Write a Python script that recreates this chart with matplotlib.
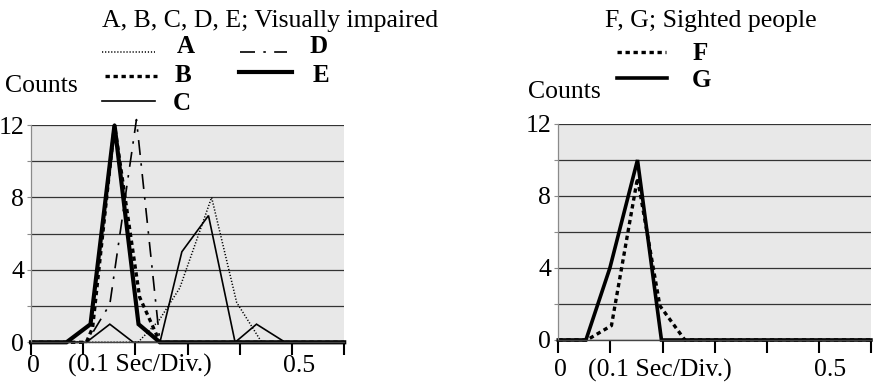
import matplotlib
matplotlib.use("Agg")
import matplotlib.pyplot as plt
import matplotlib.transforms as mtransforms
from matplotlib.lines import Line2D
import numpy as np

plt.rcParams['font.family'] = ['Liberation Serif', 'DejaVu Serif']

W, H = 873, 390

# ---- data: counts per time bin (0.1 s per division) ----
# visually impaired subjects
a_x = [0.0, 0.205, 0.245, 0.285, 0.346, 0.394, 0.442, 0.6]
a_y = [0, 0, 1.2, 3, 8, 2.2, 0, 0]
b_x = [0.0, 0.106, 0.118, 0.160, 0.208, 0.247, 0.6]
b_y = [0, 0, 0.8, 12, 2.5, 0, 0]
c_x = [0.0, 0.106, 0.151, 0.196, 0.247, 0.289, 0.340, 0.391, 0.432, 0.487, 0.6]
c_y = [0, 0, 1, 0, 0, 5, 7, 0, 1, 0, 0]
d_x = [0.0, 0.107, 0.151, 0.202, 0.247, 0.6]
d_y = [0, 0, 2.1, 12.3, 0, 0]
e_x = [0.0, 0.068, 0.114, 0.160, 0.206, 0.247, 0.6]
e_y = [0, 0, 1, 12, 1, 0, 0]
# sighted subjects
f_x = [0.0, 0.055, 0.102, 0.152, 0.195, 0.243, 0.6]
f_y = [0, 0, 0.8, 9, 1.9, 0, 0]
g_x = [0.0, 0.053, 0.099, 0.152, 0.198, 0.6]
g_y = [0, 0, 4, 10, 0, 0]

x_ticks = [0.0, 0.1, 0.2, 0.3, 0.4, 0.5, 0.6]
x_ticklabels = ['0', '', '', '', '', '0.5', '']
y_ticks = [0, 2, 4, 6, 8, 10, 12]
y_ticklabels = ['0', '', '4', '', '8', '', '12']

FS = 18.5
styles = {
    'A': dict(color='black', lw=1.1, ls=(0, (0.8, 1.2))),
    'B': dict(color='black', lw=2.4, ls=(0, (1.3, 1.1))),
    'C': dict(color='black', lw=1.2, ls='-'),
    'D': dict(color='black', lw=1.2, ls=(0, (9, 5, 1.5, 5))),
    'E': dict(color='black', lw=3.0, ls='-'),
    'F': dict(color='black', lw=2.4, ls=(0, (1.3, 1.1))),
    'G': dict(color='black', lw=2.6, ls='-'),
}


def fig_xy(x, y):
    return x / W, 1 - y / H


def style_axes(ax, lab_dx0, lab_dx5, xpad):
    ax.set_facecolor('#e8e8e8')
    ax.set_xlim(0, 0.6)
    ax.set_ylim(0, 12)
    for s in ('top', 'right'):
        ax.spines[s].set_visible(False)
    ax.spines['left'].set_color('#8a8a8a')
    ax.spines['left'].set_linewidth(0.9)
    ax.spines['bottom'].set_color('#444444')
    ax.spines['bottom'].set_linewidth(1.0)
    ax.set_yticks(y_ticks)
    ax.set_yticklabels(y_ticklabels, fontsize=FS)
    ax.set_xticks(x_ticks)
    ax.set_xticklabels(x_ticklabels, fontsize=FS)
    ax.tick_params(axis='y', length=3, width=0.8, color='#8a8a8a', pad=2)
    ax.tick_params(axis='x', length=9, width=1.5, color='black', pad=xpad)
    ax.grid(axis='y', color='#333333', lw=0.9)
    ax.set_axisbelow(True)
    labs = ax.get_xticklabels()
    for lab, dx in ((labs[0], lab_dx0), (labs[5], lab_dx5)):
        off = mtransforms.ScaledTranslation(dx / 100, 0, ax.figure.dpi_scale_trans)
        lab.set_transform(lab.get_transform() + off)


fig = plt.figure(figsize=(W / 100, H / 100), dpi=100)

axL = fig.add_axes([31 / W, 47.7 / H, 313.2 / W, 217.3 / H])
axR = fig.add_axes([558.3 / W, 50 / H, 312.6 / W, 216 / H])
style_axes(axL, 2, 7, 0)
style_axes(axR, 2, 11, 5)

for name, xs, ys in (('A', a_x, a_y), ('C', c_x, c_y), ('D', d_x, d_y),
                     ('B', b_x, b_y), ('E', e_x, e_y)):
    axL.plot(xs, ys, clip_on=False, solid_joinstyle='miter', **styles[name])
for name, xs, ys in (('F', f_x, f_y), ('G', g_x, g_y)):
    axR.plot(xs, ys, clip_on=False, solid_joinstyle='miter', **styles[name])

# ---- titles, legend keys and axis captions ----
def put(txt, x, y, bold=False, size=FS):
    fx, fy = fig_xy(x, y)
    fig.text(fx, fy, txt, fontsize=size, ha='left', va='baseline',
             fontweight='bold' if bold else 'normal')


def key(name, x1, x2, y):
    fx1, fy = fig_xy(x1, y)
    fx2, _ = fig_xy(x2, y)
    fig.add_artist(Line2D([fx1, fx2], [fy, fy], transform=fig.transFigure,
                          **styles[name]))


put('A, B, C, D, E; Visually impaired', 101.7, 27.3)
key('A', 101.7, 155, 51.7); put('A', 176.7, 53.3, bold=True, size=18)
key('B', 105, 156.7, 76);   put('B', 175, 81.7, bold=True, size=18)
key('C', 101.7, 155, 101);  put('C', 173, 110.5, bold=True, size=18)
key('D', 240, 286.7, 51.7); put('D', 310, 53.3, bold=True, size=18)
key('E', 239, 291.7, 71.7); put('E', 313, 81.7, bold=True, size=18)
put('Counts', 5, 91.7)
put('(0.1 Sec/Div.)', 68, 371.7)

put('F, G; Sighted people', 605, 26.7)
key('F', 617, 665.7, 51.7); put('F', 692.7, 60, bold=True, size=18)
key('G', 617, 666.7, 77.7); put('G', 691.7, 87, bold=True, size=18)
put('Counts', 528, 98.3)
put('(0.1 Sec/Div.)', 588.3, 376.5)

fig.savefig('out.png', dpi=100)
